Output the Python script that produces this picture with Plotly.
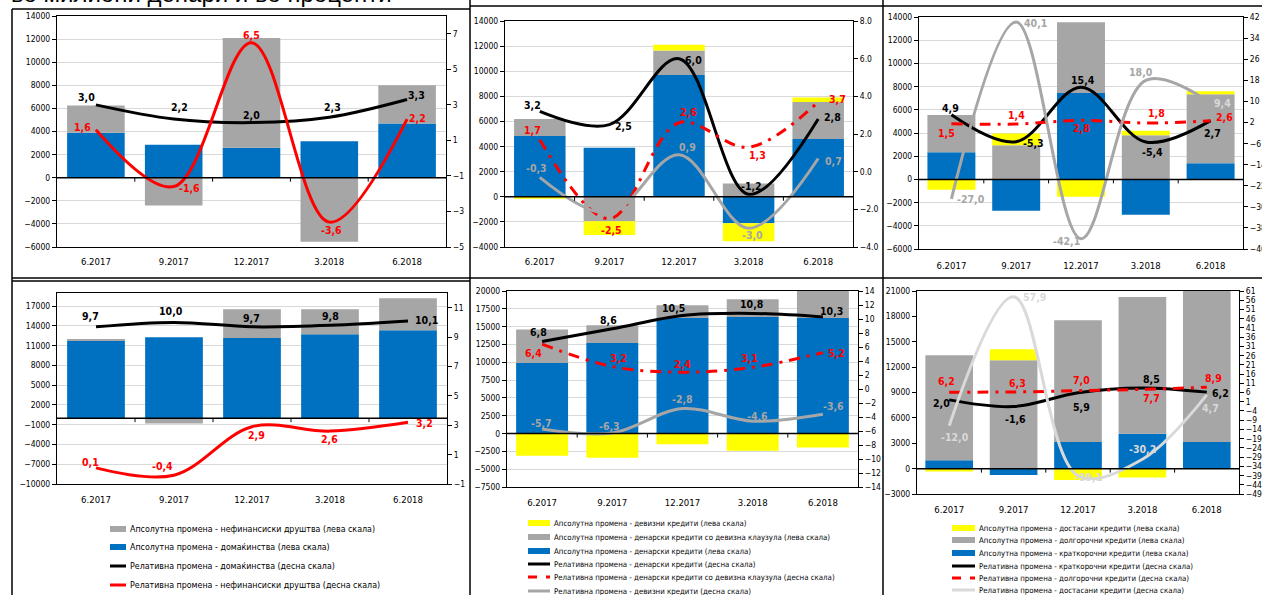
import plotly.graph_objects as go

W, H = 1262, 595
FONT = "DejaVu Sans Condensed, Liberation Sans, Arial, sans-serif"

BLUE, GRAY, YELLOW = "#0070C0", "#A6A6A6", "#FFFF00"
BLACK, RED, LGRAY, GRID = "#000000", "#FF0000", "#D9D9D9", "#D9D9D9"

periods = ["6.2017", "9.2017", "12.2017", "3.2018", "6.2018"]

# ---- sector breakdown: quarterly change (top) and annual change (bottom)
q_hh_abs = [3900, 2850, 2600, 3150, 4700]
q_nfc_abs = [2350, -2400, 9500, -5550, 3300]
q_hh_rel = [3.0, 2.2, 2.0, 2.3, 3.3]
q_nfc_rel = [1.6, -1.6, 6.5, -3.6, 2.2]

y_hh_abs = [11800, 12300, 12150, 12750, 13350]
y_nfc_abs = [150, -800, 4400, 3800, 4850]
y_hh_rel = [9.7, 10.0, 9.7, 9.8, 10.1]
y_nfc_rel = [0.1, -0.4, 2.9, 2.6, 3.2]

# ---- currency breakdown
q_den_abs = [4850, 3900, 9700, -2100, 4600]
q_fxcl_abs = [1350, -1950, 1950, 1050, 2950]
q_fx_abs = [-150, -1100, 450, -1450, 350]
q_den_rel = [3.2, 2.5, 6.0, -1.2, 2.8]
q_fxcl_rel = [1.7, -2.5, 2.6, 1.3, 3.7]
q_fx_rel = [-0.3, -2.2, 0.9, -3.0, 0.7]

y_den_abs = [9900, 12700, 16200, 16350, 16200]
y_fxcl_abs = [4700, 2500, 1800, 2500, 3800]
y_fx_abs = [-3100, -3400, -1500, -2400, -1950]
y_den_rel = [6.8, 8.6, 10.5, 10.8, 10.3]
y_fxcl_rel = [6.4, 3.2, 2.4, 3.1, 5.2]
y_fx_rel = [-5.7, -6.3, -2.8, -4.6, -3.6]

# ---- maturity breakdown
q_st_abs = [2350, -2700, 7450, -3050, 1400]
q_lt_abs = [3200, 2950, 6100, 3800, 5950]
q_od_abs = [-900, 1000, -1500, 400, 250]
q_st_rel = [4.9, -5.3, 15.4, -5.4, 2.7]
q_lt_rel = [1.5, 1.4, 2.8, 1.8, 2.6]
q_od_rel = [-27.0, 40.1, -42.1, 18.0, 9.4]

y_st_abs = [1000, -750, 3150, 4130, 3150]
y_lt_abs = [12400, 12800, 14400, 16150, 18000]
y_od_abs = [-350, 1300, -1350, -1050, 0]
y_st_rel = [2.0, -1.6, 5.9, 8.5, 6.2]
y_lt_rel = [6.2, 6.3, 7.0, 7.7, 8.9]
y_od_rel = [-12.0, 57.9, -39.1, -30.2, 4.7]

# ---- series names
n_nfc_abs = "Апсолутна промена - нефинансиски друштва (лева скала)"
n_hh_abs = "Апсолутна промена - домаќинства (лева скала)"
n_hh_rel = "Релативна промена - домаќинства (десна скала)"
n_nfc_rel = "Релативна промена - нефинансиски друштва (десна скала)"

n_fx_abs = "Апсолутна промена - девизни кредити (лева скала)"
n_fxcl_abs = "Апсолутна промена - денарски кредити со девизна клаузула (лева скала)"
n_den_abs = "Апсолутна промена - денарски кредити (лева скала)"
n_den_rel = "Релативна промена - денарски кредити (десна скала)"
n_fxcl_rel = "Релативна промена - денарски кредити со девизна клаузула (десна скала)"
n_fx_rel = "Релативна промена - девизни кредити (десна скала)"

n_od_abs = "Апсолутна промена - достасани кредити (лева скала)"
n_lt_abs = "Апсолутна промена - долгорочни кредити (лева скала)"
n_st_abs = "Апсолутна промена - краткорочни кредити (лева скала)"
n_st_rel = "Релативна промена - краткорочни кредити (десна скала)"
n_lt_rel = "Релативна промена - долгорочни кредити (десна скала)"
n_od_rel = "Релативна промена - достасани кредити (десна скала)"

title_text = "во милиони денари и во проценти"

DASHDOT = "11px,7px,3px,7px"


def px_x(x):
    return x / W


def px_y(y):
    return 1 - y / H


def fmt(v):
    return f"{v:.1f}".replace(".", ",")


def axname(prefix, n):
    return prefix if n == 1 else f"{prefix}{n}"


# panel layout: plot box in pixels (left, top, right, bottom), scales, series
panels = [
    dict(box=(57, 16, 446, 247), left=(-6000, 14000, -6000, 2000),
         right=(-5, 8, -5, 2, "d"), grid6=False, stand=5,
         bars=[(q_hh_abs, BLUE, n_hh_abs), (q_nfc_abs, GRAY, n_nfc_abs)],
         lines=[(q_hh_rel, BLACK, None, n_hh_rel,
                 [(-9, 8), (6, 12), (0, 8), (3, 10), (9, 5)], BLACK),
                (q_nfc_rel, RED, None, n_nfc_rel,
                 [(-13, 3), (16, -1), (0, 8), (2, -8), (10, 1)], RED)]),
    dict(box=(505, 21, 853, 247), left=(-4000, 14000, -4000, 2000),
         right=(-4, 8, -4, 2, ".1f"), grid6=False, stand=5,
         bars=[(q_den_abs, BLUE, n_den_abs), (q_fxcl_abs, GRAY, n_fxcl_abs),
               (q_fx_abs, YELLOW, n_fx_abs)],
         lines=[(q_den_rel, BLACK, None, n_den_rel,
                 [(-7, 6), (14, -1), (14, -1), (3, 8), (14, 2)], BLACK),
                (q_fxcl_rel, RED, DASHDOT, n_fxcl_rel,
                 [(-7, 10), (2, -11), (9, 11), (9, -8), (19, 3)], RED),
                (q_fx_rel, GRAY, None, n_fx_rel,
                 [(-3, 9), (-2, 4), (8, 8), (4, -7), (15, -3)], GRAY)]),
    dict(box=(919, 17, 1243, 249), left=(-6000, 14000, -6000, 2000),
         right=(-46, 42, -46, 8, "d"), grid6=False, stand=7,
         bars=[(q_st_abs, BLUE, n_st_abs), (q_lt_abs, GRAY, n_lt_abs),
               (q_od_abs, YELLOW, n_od_abs)],
         lines=[(q_st_rel, BLACK, None, n_st_rel,
                 [(-1, 7), (17, -1), (2, 7), (7, -10), (2, -12)], BLACK),
                (q_lt_rel, RED, DASHDOT, n_lt_rel,
                 [(-5, -9), (0, 9), (0, -8), (11, 10), (14, 4)], RED),
                (q_od_rel, GRAY, None, n_od_rel,
                 [(20, 0), (19, -1), (-15, -2), (-5, 8), (12, 0)],
                 [GRAY, GRAY, GRAY, GRAY, LGRAY])]),
    dict(box=(57, 293, 447, 484), left=(-10000, 19000, -10000, 3000),
         right=(-1, 12, -1, 2, "d"), grid6=False, stand=6,
         bars=[(y_hh_abs, BLUE, n_hh_abs), (y_nfc_abs, GRAY, n_nfc_abs)],
         lines=[(y_hh_rel, BLACK, None, n_hh_rel,
                 [(-6, 11), (-3, 11), (-1, 9), (0, 9), (18, 1)], BLACK),
                (y_nfc_rel, RED, None, n_nfc_rel,
                 [(-6, 6), (-12, 9), (4, -8), (-1, -8), (16, -1)], RED)]),
    dict(box=(507, 291, 858, 487), left=(-7500, 20000, -7500, 2500),
         right=(-14, 14, -14, 2, "d"), grid6=False, stand=6,
         bars=[(y_den_abs, BLUE, n_den_abs), (y_fxcl_abs, GRAY, n_fxcl_abs),
               (y_fx_abs, YELLOW, n_fx_abs)],
         lines=[(y_den_rel, BLACK, None, n_den_rel,
                 [(-4, 9), (-4, 9), (-9, 8), (-1, 9), (9, 6)], BLACK),
                (y_fxcl_rel, RED, DASHDOT, n_fxcl_rel,
                 [(-9, -9), (6, 9), (0, 8), (-3, 9), (14, 0)], RED),
                (y_fx_rel, GRAY, None, n_fx_rel,
                 [(-1, 6), (-3, 7), (0, 10), (5, 5), (11, 8)], GRAY)]),
    dict(box=(917, 291, 1239, 494), left=(-3000, 21000, -3000, 3000),
         right=(-49, 61, -49, 5, "d"), grid6=True, stand=6,
         bars=[(y_st_abs, BLUE, n_st_abs), (y_lt_abs, GRAY, n_lt_abs),
               (y_od_abs, YELLOW, n_od_abs)],
         lines=[(y_st_rel, BLACK, None, n_st_rel,
                 [(-8, -3), (2, -12), (3, -14), (9, 9), (14, -1)], BLACK),
                (y_lt_rel, RED, DASHDOT, n_lt_rel,
                 [(-3, 11), (4, 9), (3, 11), (9, -9), (7, 9)], RED),
                (y_od_rel, LGRAY, None, n_od_rel,
                 [(6, -11), (21, 0), (10, -1), (0, 10), (4, -13)], LGRAY)]),
]

fig = go.Figure()
layout = dict(
    width=W, height=H,
    margin=dict(l=0, r=0, t=0, b=0, autoexpand=False),
    paper_bgcolor="white", plot_bgcolor="white",
    barmode="relative", bargap=0.26,
    showlegend=False,
    font=dict(family=FONT, size=9, color=BLACK),
)
annotations = []
shapes = []
tickfont = dict(family=FONT, size=8.5, color=BLACK)
extra_axis = 13

for i, p in enumerate(panels, start=1):
    xl, yt, xr, yb = p["box"]
    nl, nr = 2 * i - 1, 2 * i
    xa, yl, yr = axname("x", i), axname("y", nl), axname("y", nr)

    layout[axname("xaxis", i)] = dict(
        domain=[px_x(xl), px_x(xr)], anchor=yl, type="category",
        categoryorder="array", categoryarray=periods, range=[-0.5, 4.5],
        showline=True, linecolor=BLACK, linewidth=1.2,
        mirror=True, ticks="", showgrid=False,
        tickfont=dict(family=FONT, size=9.5, color=BLACK),
        ticklabelstandoff=p["stand"],
    )
    lo, hi, t0, dt = p["left"]
    layout[axname("yaxis", nl)] = dict(
        domain=[px_y(yb), px_y(yt)], anchor=xa, range=[lo, hi],
        tick0=t0, dtick=dt, tickformat="d",
        showgrid=not p["grid6"], gridcolor=GRID, gridwidth=1,
        zeroline=False, showline=True, linecolor=BLACK, linewidth=1.2,
        ticks="outside", ticklen=4, tickcolor=BLACK, tickfont=tickfont,
    )
    rlo, rhi, rt0, rdt, rfmt = p["right"]
    layout[axname("yaxis", nr)] = dict(
        overlaying=yl, side="right", anchor=xa, range=[rlo, rhi],
        tick0=rt0, dtick=rdt, tickformat=rfmt, showgrid=False,
        zeroline=False, showline=True, linecolor=BLACK, linewidth=1.2,
        ticks="outside", ticklen=4, tickcolor=BLACK, tickfont=tickfont,
    )
    if p["grid6"]:
        layout[axname("yaxis", extra_axis)] = dict(
            overlaying=yl, anchor=xa, range=[lo, hi], tick0=lo, dtick=2 * dt,
            showgrid=True, gridcolor=GRID, gridwidth=1, zeroline=False,
            showline=False, ticks="", showticklabels=False,
        )

    for vals, color, name in p["bars"]:
        fig.add_trace(go.Bar(
            x=periods, y=vals, name=name, marker=dict(color=color, line=dict(width=0)),
            xaxis=xa, yaxis=yl, showlegend=False,
        ))

    for vals, color, dash, name, offs, lcol in p["lines"]:
        fig.add_trace(go.Scatter(
            x=periods, y=vals, name=name, mode="lines",
            line=dict(color=color, width=3, shape="spline", dash=dash),
            xaxis=xa, yaxis=yr, showlegend=False,
        ))
        cols = lcol if isinstance(lcol, list) else [lcol] * len(vals)
        for k, v in enumerate(vals):
            dx, dy = offs[k]
            # k is the category index on the category axis
            annotations.append(dict(
                x=k, y=v, xref=xa, yref=yr, text=f"<b>{fmt(v)}</b>",
                showarrow=False, xshift=dx, yshift=dy,
                font=dict(family=FONT, size=10.5, color=cols[k]),
            ))

    # category axis drawn through zero, with boundary tick marks
    shapes.append(dict(type="line", xref=f"{xa} domain", yref=yl, x0=0, x1=1,
                       y0=0, y1=0, line=dict(color=BLACK, width=1.5)))
    for b in [0.5, 1.5, 2.5, 3.5]:
        shapes.append(dict(type="line", xref=xa, yref=yl, x0=b, x1=b,
                           ysizemode="pixel", yanchor=0, y0=0, y1=-4,
                           line=dict(color=BLACK, width=1)))

# ---- legends below the bottom row
legends = [
    dict(sym=(110, 126), text_x=128, size=8.8, rows=[529, 547, 566, 585],
         items=[(n_nfc_abs, "bar", GRAY, None), (n_hh_abs, "bar", BLUE, None),
                (n_hh_rel, "line", BLACK, None), (n_nfc_rel, "line", RED, None)]),
    dict(sym=(528, 550), text_x=552, size=7.8, rows=[523, 537, 551, 564, 577, 591],
         items=[(n_fx_abs, "bar", YELLOW, None), (n_fxcl_abs, "bar", GRAY, None),
                (n_den_abs, "bar", BLUE, None), (n_den_rel, "line", BLACK, None),
                (n_fxcl_rel, "line", RED, "dash"), (n_fx_rel, "line", GRAY, None)]),
    dict(sym=(952, 975), text_x=977, size=7.8, rows=[528, 540, 553, 566, 578, 590],
         items=[(n_od_abs, "bar", YELLOW, None), (n_lt_abs, "bar", GRAY, None),
                (n_st_abs, "bar", BLUE, None), (n_st_rel, "line", BLACK, None),
                (n_lt_rel, "line", RED, "dash"), (n_od_rel, "line", LGRAY, None)]),
]
for lg in legends:
    s0, s1 = lg["sym"]
    for (name, kind, color, dash), row in zip(lg["items"], lg["rows"]):
        if kind == "bar":
            shapes.append(dict(type="rect", xref="paper", yref="paper",
                               x0=px_x(s0), x1=px_x(s1), y0=px_y(row + 3), y1=px_y(row - 3),
                               fillcolor=color, line=dict(width=0)))
        else:
            shapes.append(dict(type="line", xref="paper", yref="paper",
                               x0=px_x(s0), x1=px_x(s1), y0=px_y(row), y1=px_y(row),
                               line=dict(color=color, width=3, dash=dash)))
        annotations.append(dict(x=px_x(lg["text_x"]), y=px_y(row), xref="paper", yref="paper",
                                text=name, showarrow=False, xanchor="left", yanchor="middle",
                                font=dict(family=FONT, size=lg["size"], color=BLACK)))

# ---- panel frames
frame = dict(color=BLACK, width=1.5)
for x0, y0, x1, y1 in [(12, 9, 12, 595), (470, 0, 470, 595), (883, 0, 883, 595),
                       (12, 9, 470, 9), (470, 6, 1262, 6),
                       (12, 278, 1262, 278), (12, 281, 470, 281)]:
    shapes.append(dict(type="line", xref="paper", yref="paper",
                       x0=px_x(x0), x1=px_x(x1), y0=px_y(y0), y1=px_y(y1), line=frame))

annotations.append(dict(x=px_x(9), y=px_y(9), xref="paper", yref="paper",
                        text=title_text, showarrow=False, xanchor="left", yanchor="bottom",
                        font=dict(family="Liberation Sans, Arial, sans-serif", size=24, color=BLACK)))

layout["annotations"] = annotations
layout["shapes"] = shapes
fig.update_layout(**layout)
fig.write_html("out.html")
